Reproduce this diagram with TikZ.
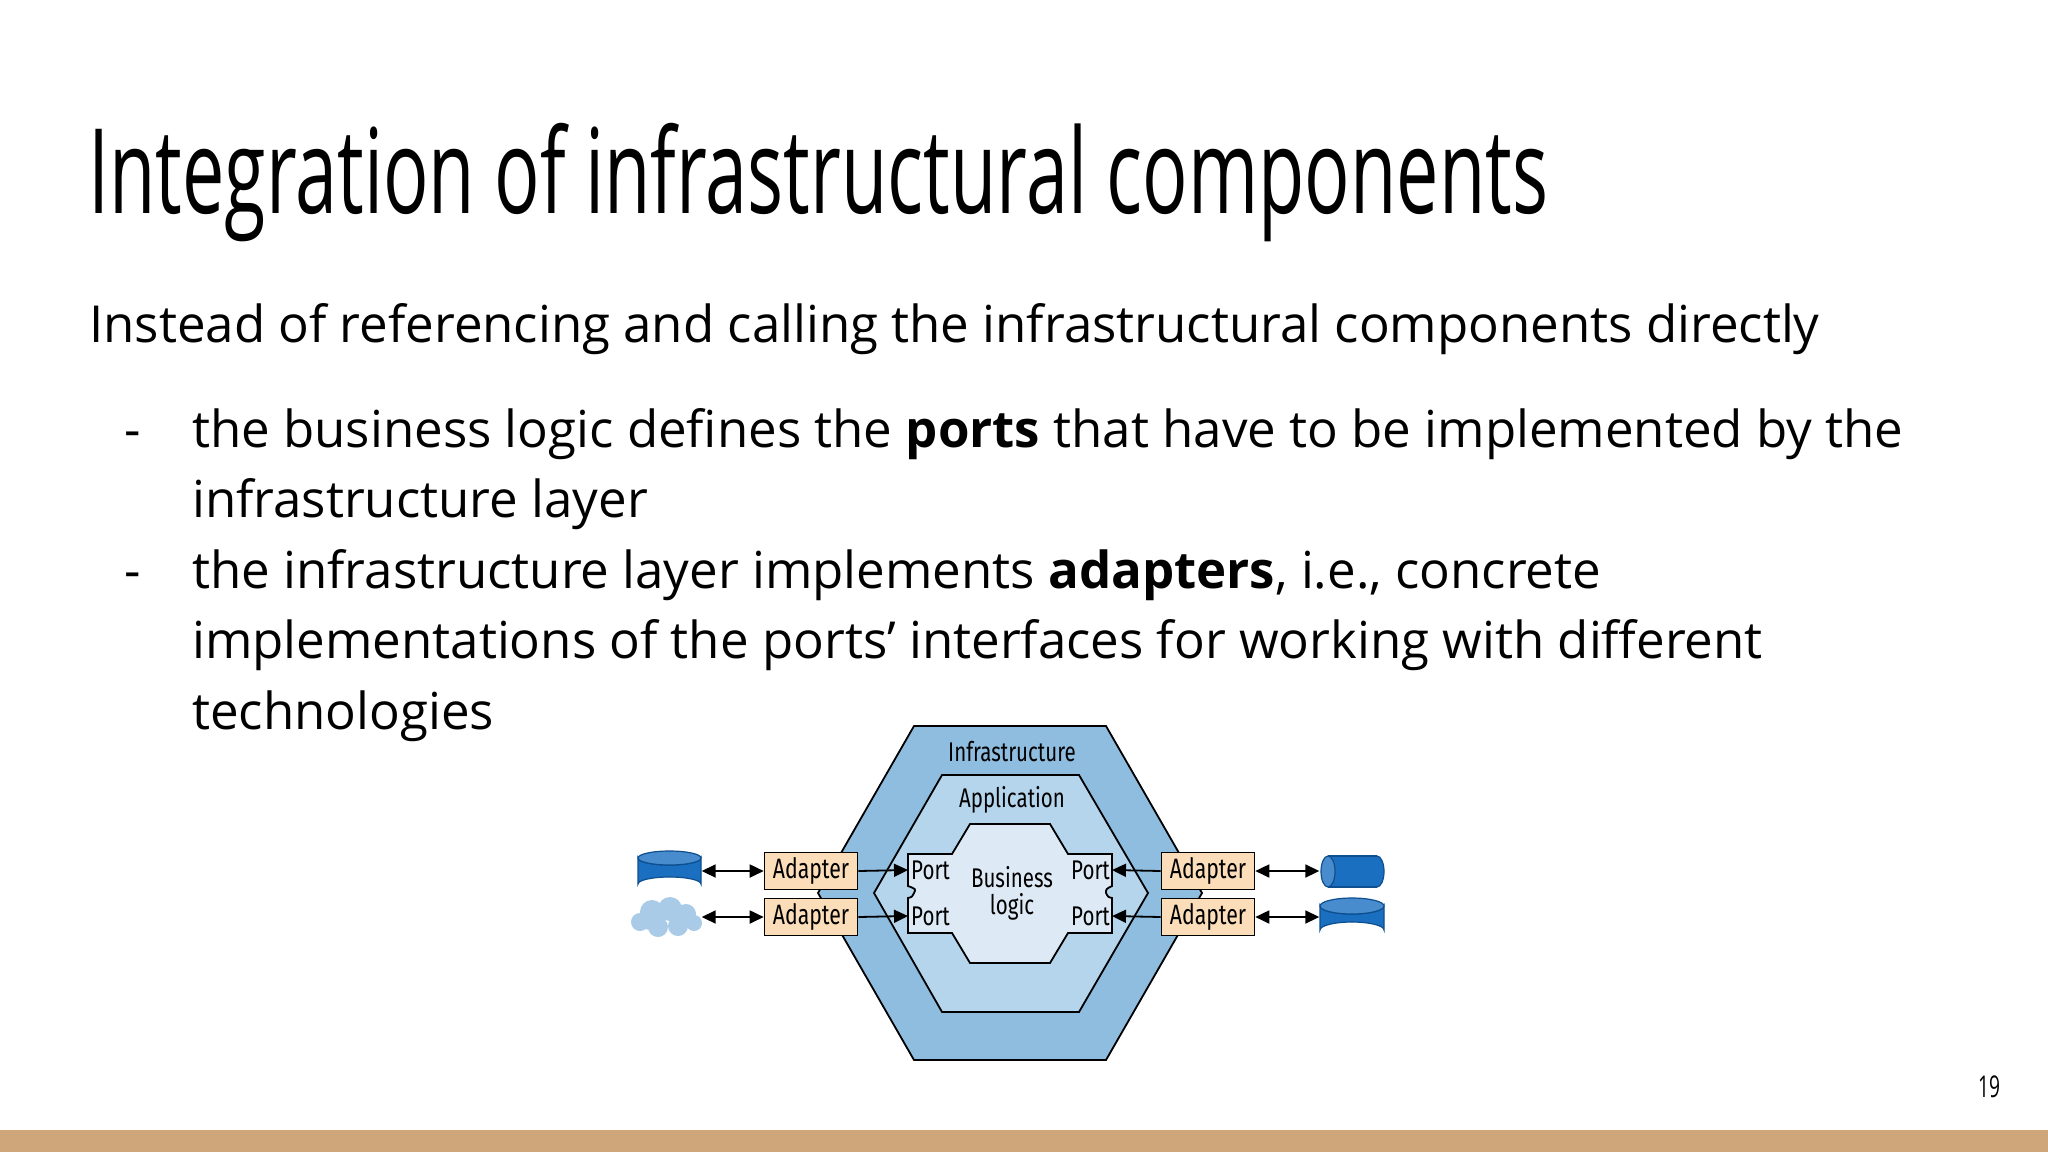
\documentclass[tikz,border=0pt]{standalone}
\usepackage{fontspec}
\setmainfont{Open Sans}
\newfontfamily\titlef[FakeStretch=0.64]{Open Sans}
\newfontfamily\cond[FakeStretch=0.76]{Fira Sans}
\usetikzlibrary{arrows.meta}
\definecolor{outerc}{HTML}{8FBDE0}
\definecolor{appc}{HTML}{B5D5EC}
\definecolor{bizc}{HTML}{DDE9F5}
\definecolor{adc}{HTML}{FBDDB9}
\definecolor{dbc}{HTML}{1A6FC0}
\definecolor{dbd}{HTML}{0D4F8F}
\definecolor{cloudc}{HTML}{A9CBE8}
\definecolor{barc}{HTML}{CFA57A}
\tikzset{
  body/.style={anchor=base west,inner sep=0pt,font=\fontsize{51}{70}\selectfont},
  adapterbox/.style={draw,line width=1.6pt,fill=adc,minimum width=93pt,minimum height=37pt,inner sep=0pt,font=\cond\fontsize{28}{28}\selectfont},
  lbl/.style={inner sep=0pt,font=\cond\fontsize{27}{27}\selectfont,align=center},
  conn/.style={line width=1.8pt,-{Triangle[length=14pt,width=13pt]}},
  dconn/.style={line width=1.8pt,{Triangle[length=14pt,width=13pt]}-{Triangle[length=14pt,width=13pt]}},
  hexline/.style={line width=1.8pt,line join=miter}
}
\begin{document}
\begin{tikzpicture}[x=1pt,y=-1pt]
\useasboundingbox (0,0) rectangle (2048,1152);
\fill[white] (0,0) rectangle (2048,1152);
\fill[barc] (0,1130) rectangle (2048,1152);
\node[anchor=base west,inner sep=0pt,font=\titlef\fontsize{118}{118}\selectfont] (title) at (88,213) {Integration of infrastructural components};
\node[body] (intro) at (89,342) {Instead of referencing and calling the infrastructural components directly};
\node[body] (d1) at (124,447) {-};
\node[body] (b1) at (192,447) {the business logic defines the \textbf{ports} that have to be implemented by the};
\node[body] (b1b) at (192,517) {infrastructure layer};
\node[body] (d2) at (124,588) {-};
\node[body] (b2) at (192,588) {the infrastructure layer implements \textbf{adapters}, i.e., concrete};
\node[body] (b2b) at (192,658) {implementations of the ports’ interfaces for working with different};
\node[body] (b2c) at (192,729) {technologies};
\node[anchor=base,inner sep=0pt,font=\titlef\fontsize{30}{30}\selectfont] (pg) at (1989,1097) {19};
% hexagons
\draw[hexline,fill=outerc] (914,726) -- (1106,726) -- (1202,893) -- (1106,1060) -- (914,1060) -- (818,893) -- cycle;
\draw[hexline,fill=appc] (942,775) -- (1079,775) -- (1148,893) -- (1079,1012) -- (942,1012) -- (874,893) -- cycle;
\draw[hexline,fill=bizc] (970,824) -- (952,854) -- (908,854) -- (908,886) .. controls (916,889) .. (914,893) .. controls (912,897) .. (908,898) -- (908,933) -- (952,933) -- (970,963) -- (1050,963) -- (1068,933) -- (1112,933) -- (1112,898) .. controls (1108,897) .. (1106,893) .. controls (1106,889) .. (1112,886) -- (1112,854) -- (1068,854) -- (1050,824) -- cycle;
\node[lbl] (infra) at (1012,752) {Infrastructure};
\node[lbl] (app) at (1012,800) {Application};
\node[lbl] (biz) at (1012,893) {Business\\logic};
\node[lbl,anchor=west] (p1) at (911,870) {Port};
\node[lbl,anchor=west] (p2) at (911,916) {Port};
\node[lbl,anchor=east] (p3) at (1110,870) {Port};
\node[lbl,anchor=east] (p4) at (1110,916) {Port};
\coordinate (p1e) at (908,870); \coordinate (p2e) at (908,916);
\coordinate (p3e) at (1112,870); \coordinate (p4e) at (1112,916);
% adapters
\node[adapterbox] (a1) at (811,871) {Adapter};
\node[adapterbox] (a2) at (811,917) {Adapter};
\node[adapterbox] (a3) at (1208,871) {Adapter};
\node[adapterbox] (a4) at (1208,917) {Adapter};
% externals
\begin{scope}[line width=1.2pt]
\draw[dbd,fill=dbc] (638,858) -- (638,884) arc[start angle=180,end angle=360,x radius=31.5,y radius=7] -- (701,858) arc[start angle=0,end angle=180,x radius=31.5,y radius=7] -- cycle;
\draw[dbd,fill=dbc!80!white] (669.5,858) ellipse[x radius=31.5,y radius=7];
\fill[dbc] (1328,856) rectangle (1377,887);
\draw[dbd,fill=dbc] (1377,871.5) ellipse[x radius=7,y radius=15.5];
\fill[dbc] (1328,857) rectangle (1377,886);
\draw[dbd] (1328,856) -- (1377,856) (1328,887) -- (1377,887);
\draw[dbd,fill=dbc!80!white] (1328,871.5) ellipse[x radius=7,y radius=15.5];
\draw[dbd,fill=dbc] (1320,906) -- (1320,930) arc[start angle=180,end angle=360,x radius=32,y radius=8] -- (1384,906) arc[start angle=0,end angle=180,x radius=32,y radius=8] -- cycle;
\draw[dbd,fill=dbc!80!white] (1352,906) ellipse[x radius=32,y radius=8];
\end{scope}
\node[inner sep=0pt] (db1) at (701,871) {};
\node[inner sep=0pt] (db3) at (1320,871) {};
\node[inner sep=0pt] (db4) at (1320,917) {};
\fill[cloudc] (640,922) circle (9) (652,912) circle (12) (670,909) circle (12) (686,914) circle (10) (694,923) circle (8) (678,926) circle (10) (658,927) circle (10) (650,920) circle(10);
\node[inner sep=0pt] (cl) at (701,917) {};
% connectors
\draw[dconn] (db1) -- (a1.west);
\draw[dconn] (cl) -- (a2.west);
\draw[dconn] (a3.east) -- (db3);
\draw[dconn] (a4.east) -- (db4);
\draw[conn] (a1.east) -- (p1e);
\draw[conn] (a2.east) -- (p2e);
\draw[conn] (a3.west) -- (p3e);
\draw[conn] (a4.west) -- (p4e);
\end{tikzpicture}
\end{document}
